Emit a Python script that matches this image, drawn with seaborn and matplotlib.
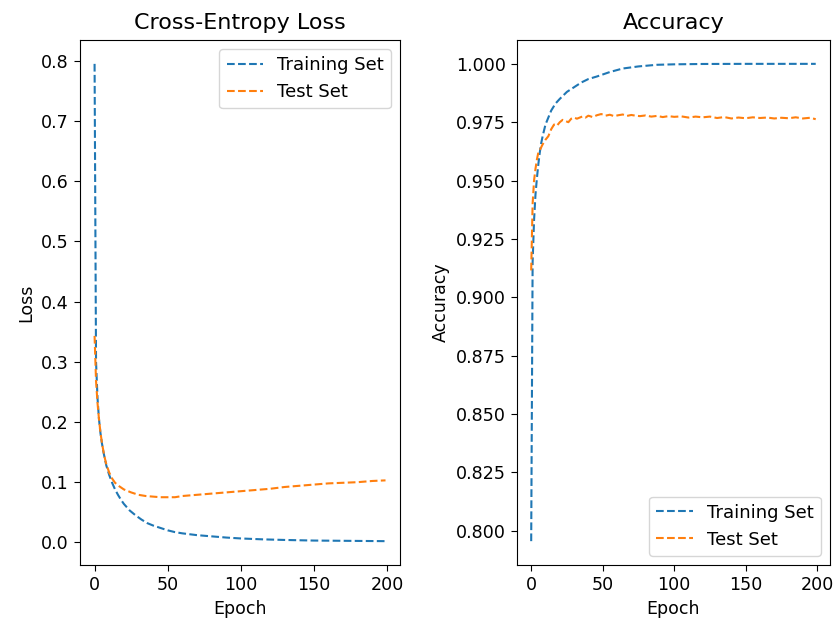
import seaborn as sns
import matplotlib
matplotlib.use("Agg")
import matplotlib.pyplot as plt
from matplotlib.ticker import FormatStrFormatter

# values (epoch, value)
loss_train_ep = [0, 1, 2, 3, 4, 5, 6, 7, 8, 10, 12, 14, 16, 18, 20, 24, 28, 32, 36, 40, 45, 50,
                 55, 60, 70, 80, 90, 100, 115, 130, 150, 175, 199]
loss_train = [0.795, 0.300, 0.240, 0.205, 0.182, 0.165, 0.151, 0.139, 0.128, 0.112, 0.099, 0.088,
              0.079, 0.071, 0.064, 0.053, 0.045, 0.038, 0.032, 0.028, 0.024, 0.020, 0.017, 0.015,
              0.012, 0.010, 0.008, 0.0065, 0.005, 0.004, 0.003, 0.0025, 0.002]

loss_test_ep = [0, 1, 2, 3, 4, 5, 6, 7, 8, 10, 12, 14, 17, 20, 25, 30, 35, 40, 45, 50, 55, 60, 65,
                70, 80, 90, 100, 110, 120, 130, 140, 150, 160, 170, 180, 190, 199]
loss_test = [0.343, 0.268, 0.232, 0.205, 0.183, 0.166, 0.152, 0.140, 0.130, 0.116, 0.106, 0.099,
             0.093, 0.088, 0.083, 0.079, 0.077, 0.076, 0.075, 0.075, 0.075, 0.077, 0.078, 0.079,
             0.081, 0.083, 0.085, 0.087, 0.089, 0.092, 0.094, 0.096, 0.098, 0.099, 0.100, 0.102,
             0.103]

acc_train_ep = [0, 1, 2, 3, 4, 5, 6, 7, 8, 10, 12, 14, 17, 20, 25, 30, 35, 40, 46, 55, 64, 75, 88,
                100, 120, 150, 199]
acc_train = [0.7955, 0.915, 0.933, 0.944, 0.951, 0.957, 0.962, 0.966, 0.969, 0.974, 0.977, 0.980,
             0.983, 0.985, 0.988, 0.990, 0.992, 0.9935, 0.9946, 0.9965, 0.998, 0.9989, 0.9996,
             0.9998, 0.99995, 1.0, 1.0]

acc_test_ep = [0, 1, 2, 3, 4, 5, 6, 8, 10, 12, 14, 16, 18, 20, 22, 24, 26, 28, 30, 32, 34, 36, 38,
               40, 43, 46, 49, 52, 55, 58, 61, 64, 67, 70, 73, 76, 80, 84, 88, 92, 96, 100, 105,
               110, 115, 120, 125, 130, 135, 140, 145, 150, 155, 160, 165, 170, 175, 180, 185,
               190, 195, 199]
acc_test = [0.9115, 0.940, 0.950, 0.955, 0.959, 0.962, 0.963, 0.9655, 0.9675, 0.969, 0.972, 0.974,
            0.9735, 0.975, 0.976, 0.9755, 0.975, 0.9765, 0.9770, 0.9765, 0.9770, 0.9775, 0.9770,
            0.9778, 0.9772, 0.9780, 0.9785, 0.9778, 0.9782, 0.9776, 0.9780, 0.9783, 0.9777,
            0.9781, 0.9778, 0.9776, 0.9779, 0.9774, 0.9777, 0.9772, 0.9776, 0.9773, 0.9775,
            0.9770, 0.9774, 0.9771, 0.9774, 0.9768, 0.9772, 0.9766, 0.9770, 0.9767, 0.9771,
            0.9768, 0.9770, 0.9766, 0.9769, 0.9767, 0.9771, 0.9766, 0.9769, 0.9763]

plt.rcParams["xtick.labelsize"] = 12.6
plt.rcParams["ytick.labelsize"] = 12.6
plt.rcParams["axes.labelsize"] = 12.5
plt.rcParams["axes.titlesize"] = 16
plt.rcParams["legend.fontsize"] = 13
plt.rcParams["xtick.major.size"] = 4.5
plt.rcParams["ytick.major.size"] = 4.5

fig = plt.figure(figsize=(8.38, 6.22), dpi=100)
ax1 = fig.add_axes([0.0955, 0.0916, 0.3819, 0.8441])
ax2 = fig.add_axes([0.6169, 0.0916, 0.3735, 0.8441])

sns.lineplot(x=loss_train_ep, y=loss_train, ax=ax1, color="C0", linestyle="--", linewidth=1.5,
             label="Training Set")
sns.lineplot(x=loss_test_ep, y=loss_test, ax=ax1, color="C1", linestyle="--", linewidth=1.5,
             label="Test Set")
ax1.set_title("Cross-Entropy Loss", pad=8)
ax1.set_xlabel("Epoch")
ax1.set_ylabel("Loss")
ax1.set_xticks([0, 50, 100, 150, 200])
ax1.legend(loc="upper right")

sns.lineplot(x=acc_train_ep, y=acc_train, ax=ax2, color="C0", linestyle="--", linewidth=1.5,
             label="Training Set")
sns.lineplot(x=acc_test_ep, y=acc_test, ax=ax2, color="C1", linestyle="--", linewidth=1.5,
             label="Test Set")
ax2.set_title("Accuracy", pad=8)
ax2.set_xlabel("Epoch")
ax2.set_ylabel("Accuracy")
ax2.set_xticks([0, 50, 100, 150, 200])
ax2.yaxis.set_major_formatter(FormatStrFormatter("%.3f"))
ax2.legend(loc="lower right")

fig.savefig("out.png", dpi=100)
